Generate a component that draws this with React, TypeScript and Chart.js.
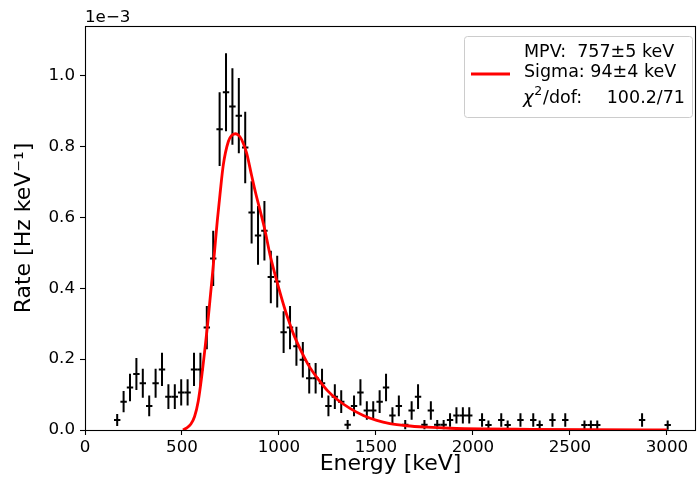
import React, { useEffect, useRef } from "react";
import { Chart, registerables } from "chart.js";

Chart.register(...registerables);

// ---- Data (rates in units of 1e-3 Hz/keV) ----
const energy = [
  166, 199, 232, 265, 298, 331, 364, 397, 430, 463, 496, 529, 562, 595, 628, 661, 694, 727, 760, 793,
  826, 859, 892, 925, 958, 991, 1024, 1057, 1090, 1123, 1156, 1189, 1222, 1255, 1288, 1321, 1354, 1387,
  1420, 1453, 1486, 1519, 1552, 1585, 1618, 1651, 1684, 1717, 1750, 1783, 1816, 1849, 1882, 1915, 1948,
  1981, 2047, 2080, 2146, 2179, 2245, 2311, 2344, 2410, 2476, 2575, 2608, 2641, 2872, 3004,
];
const rate = [
  0.028, 0.080, 0.120, 0.158, 0.132, 0.068, 0.132, 0.171, 0.094, 0.094, 0.106, 0.106, 0.171, 0.171, 0.289,
  0.484, 0.849, 0.953, 0.913, 0.887, 0.797, 0.614, 0.549, 0.562, 0.432, 0.419, 0.276, 0.289, 0.236, 0.198,
  0.146, 0.146, 0.132, 0.068, 0.094, 0.080, 0.015, 0.068, 0.106, 0.055, 0.055, 0.080, 0.120, 0.041, 0.068,
  0.015, 0.055, 0.094, 0.015, 0.055, 0.015, 0.015, 0.028, 0.041, 0.041, 0.041, 0.028, 0.014, 0.028, 0.014,
  0.028, 0.028, 0.014, 0.028, 0.028, 0.014, 0.014, 0.014, 0.028, 0.014,
];
const rateErr = [
  0.017, 0.030, 0.039, 0.045, 0.041, 0.029, 0.041, 0.047, 0.035, 0.035, 0.037, 0.037, 0.047, 0.047, 0.061,
  0.078, 0.104, 0.110, 0.108, 0.106, 0.101, 0.088, 0.083, 0.084, 0.074, 0.073, 0.059, 0.061, 0.055, 0.050,
  0.043, 0.043, 0.041, 0.029, 0.035, 0.032, 0.013, 0.029, 0.037, 0.026, 0.026, 0.032, 0.039, 0.023, 0.029,
  0.013, 0.026, 0.035, 0.013, 0.026, 0.013, 0.013, 0.019, 0.023, 0.023, 0.023, 0.019, 0.013, 0.019, 0.013,
  0.019, 0.019, 0.013, 0.019, 0.019, 0.013, 0.013, 0.013, 0.019, 0.013,
];
const binHalfWidth = 16.5;

const fitEnergy = [
  505, 525, 545, 565, 584, 601, 619, 631, 644, 656, 668, 682, 696, 713, 739, 758, 777, 795, 808, 833, 859,
  880, 902, 928, 954, 988, 1031, 1057, 1074, 1117, 1160, 1203, 1250, 1300, 1366, 1435, 1504, 1572, 1658,
  1761, 1881, 2053, 2300, 2600, 3000,
];
const fitRate = [
  0.0, 0.006, 0.016, 0.038, 0.082, 0.148, 0.232, 0.292, 0.365, 0.433, 0.505, 0.59, 0.665, 0.748, 0.814,
  0.832, 0.836, 0.83, 0.819, 0.782, 0.718, 0.668, 0.621, 0.563, 0.494, 0.422, 0.34, 0.298, 0.272, 0.22,
  0.176, 0.143, 0.111, 0.086, 0.061, 0.041, 0.027, 0.018, 0.012, 0.008, 0.005, 0.003, 0.002, 0.001, 0.0,
];

const xTickValues = [0, 500, 1000, 1500, 2000, 2500, 3000];
const yTickValues = [0.0, 0.2, 0.4, 0.6, 0.8, 1.0];
const legendLines = ["MPV:  757±5 keV", "Sigma: 94±4 keV"];
const chiLabel = "χ";
const chiSup = "2";
const chiRest = "/dof:";
const chiValue = "100.2/71";
const offsetText = "1e\u22123";
const xTitle = "Energy [keV]";
const yTitle = "Rate [Hz keV\u207B\u00B9]";

const FONT = "DejaVu Sans";

const errorBarPlugin = {
  id: "errorBars",
  beforeDatasetsDraw(chart: any) {
    const { ctx, chartArea } = chart;
    const xs = chart.scales.x;
    const ys = chart.scales.y;
    const meta = chart.getDatasetMeta(0);
    const data = chart.data.datasets[0].data as any[];
    ctx.save();
    ctx.beginPath();
    ctx.rect(chartArea.left, chartArea.top, chartArea.right - chartArea.left, chartArea.bottom - chartArea.top);
    ctx.clip();
    ctx.strokeStyle = "#000";
    ctx.lineWidth = 2;
    meta.data.forEach((pt: any, i: number) => {
      const d = data[i];
      const x0 = xs.getPixelForValue(d.x - d.xErr);
      const x1 = xs.getPixelForValue(d.x + d.xErr);
      const y0 = ys.getPixelForValue(d.y - d.yErr);
      const y1 = ys.getPixelForValue(d.y + d.yErr);
      ctx.beginPath();
      ctx.moveTo(x0, pt.y);
      ctx.lineTo(x1, pt.y);
      ctx.moveTo(pt.x, y0);
      ctx.lineTo(pt.x, y1);
      ctx.stroke();
    });
    ctx.restore();
  },
};

const framePlugin = {
  id: "frameAndLegend",
  afterDraw(chart: any) {
    const { ctx, chartArea } = chart;
    ctx.save();
    // axes frame
    ctx.strokeStyle = "#000";
    ctx.lineWidth = 1.1;
    ctx.strokeRect(chartArea.left + 0.5, chartArea.top + 0.5, chartArea.right - chartArea.left - 1, chartArea.bottom - chartArea.top);

    // offset text
    ctx.fillStyle = "#000";
    ctx.font = `16.7px '${FONT}'`;
    ctx.textAlign = "left";
    ctx.textBaseline = "alphabetic";
    ctx.fillText(offsetText, chartArea.left, 21.5);

    // legend box
    const bx = 464.5, by = 36.5, bw = 228, bh = 81, r = 3;
    ctx.beginPath();
    ctx.moveTo(bx + r, by);
    ctx.lineTo(bx + bw - r, by);
    ctx.quadraticCurveTo(bx + bw, by, bx + bw, by + r);
    ctx.lineTo(bx + bw, by + bh - r);
    ctx.quadraticCurveTo(bx + bw, by + bh, bx + bw - r, by + bh);
    ctx.lineTo(bx + r, by + bh);
    ctx.quadraticCurveTo(bx, by + bh, bx, by + bh - r);
    ctx.lineTo(bx, by + r);
    ctx.quadraticCurveTo(bx, by, bx + r, by);
    ctx.closePath();
    ctx.fillStyle = "rgba(255,255,255,0.8)";
    ctx.fill();
    ctx.strokeStyle = "#cccccc";
    ctx.lineWidth = 1;
    ctx.stroke();

    // handle
    ctx.strokeStyle = "#ff0000";
    ctx.lineWidth = 2.8;
    ctx.beginPath();
    ctx.moveTo(471, 74);
    ctx.lineTo(510, 74);
    ctx.stroke();

    // legend text
    ctx.fillStyle = "#000";
    ctx.font = `17.5px '${FONT}'`;
    ctx.fillText(legendLines[0], 524, 56.5);
    ctx.fillText(legendLines[1], 524, 76.5);
    ctx.font = `italic 18px '${FONT}'`;
    ctx.fillText(chiLabel, 523, 102.5);
    const cw = ctx.measureText(chiLabel).width;
    ctx.font = `12.5px '${FONT}'`;
    ctx.fillText(chiSup, 523 + cw + 0.5, 94.5);
    const sw = ctx.measureText(chiSup).width;
    ctx.font = `17.5px '${FONT}'`;
    ctx.fillText(chiRest, 523 + cw + sw + 1.5, 102.5);
    ctx.textAlign = "right";
    ctx.fillText(chiValue, 685, 102.5);
    ctx.restore();
  },
};

export default function App() {
  const canvasRef = useRef<HTMLCanvasElement | null>(null);

  useEffect(() => {
    document.body.style.margin = "0";
    const canvas = canvasRef.current;
    if (!canvas) return;

    const points = energy.map((e, i) => ({ x: e, y: rate[i], xErr: binHalfWidth, yErr: rateErr[i] }));
    const fit = fitEnergy.map((e, i) => ({ x: e, y: fitRate[i] }));

    const chart = new Chart(canvas, {
      type: "scatter",
      data: {
        datasets: [
          {
            label: "data",
            data: points as any,
            pointRadius: 0,
            pointHoverRadius: 0,
            showLine: false,
            borderColor: "#000",
            backgroundColor: "#000",
          },
          {
            label: "fit",
            data: fit,
            showLine: true,
            borderColor: "#ff0000",
            borderWidth: 2.8,
            pointRadius: 0,
            pointHoverRadius: 0,
            cubicInterpolationMode: "monotone",
            fill: false,
          } as any,
        ],
      },
      options: {
        animation: false,
        responsive: false,
        devicePixelRatio: 1,
        layout: { padding: { top: 26, right: 1, left: 0, bottom: 0 } },
        plugins: {
          legend: { display: false },
          tooltip: { enabled: false },
        },
        scales: {
          x: {
            type: "linear",
            position: "bottom",
            min: 0,
            max: 3150,
            afterFit: (s: any) => {
              s.height = 61;
            },
            afterBuildTicks: (s: any) => {
              s.ticks = xTickValues.map((v) => ({ value: v }));
            },
            ticks: {
              color: "#000",
              font: { family: FONT, size: 16.7 },
              padding: 3,
              maxRotation: 0,
              autoSkip: false,
              callback: (v: any) => String(v),
            },
            grid: {
              display: true,
              drawOnChartArea: false,
              drawTicks: true,
              tickLength: 5,
              tickColor: "#000",
              tickWidth: 1.1,
            },
            border: { display: false },
            title: {
              display: true,
              text: xTitle,
              color: "#000",
              font: { family: FONT, size: 22 },
              padding: { top: 0, bottom: 14 },
            },
          },
          y: {
            type: "linear",
            position: "left",
            min: 0,
            max: 1.14,
            afterFit: (s: any) => {
              s.width = 85;
            },
            afterBuildTicks: (s: any) => {
              s.ticks = yTickValues.map((v) => ({ value: v }));
            },
            ticks: {
              color: "#000",
              font: { family: FONT, size: 16.7 },
              padding: 5,
              autoSkip: false,
              callback: (v: any) => Number(v).toFixed(1),
            },
            grid: {
              display: true,
              drawOnChartArea: false,
              drawTicks: true,
              tickLength: 5,
              tickColor: "#000",
              tickWidth: 1.1,
            },
            border: { display: false },
            title: {
              display: true,
              text: yTitle,
              color: "#000",
              font: { family: FONT, size: 22 },
              padding: { top: 11, bottom: 0 },
            },
          },
        },
      },
      plugins: [errorBarPlugin, framePlugin],
    });

    return () => {
      chart.destroy();
    };
  }, []);

  return (
    <div style={{ position: "absolute", left: 0, top: 0, width: 697, height: 491, background: "#fff" }}>
      <canvas ref={canvasRef} width={697} height={491} style={{ display: "block" }} />
    </div>
  );
}
